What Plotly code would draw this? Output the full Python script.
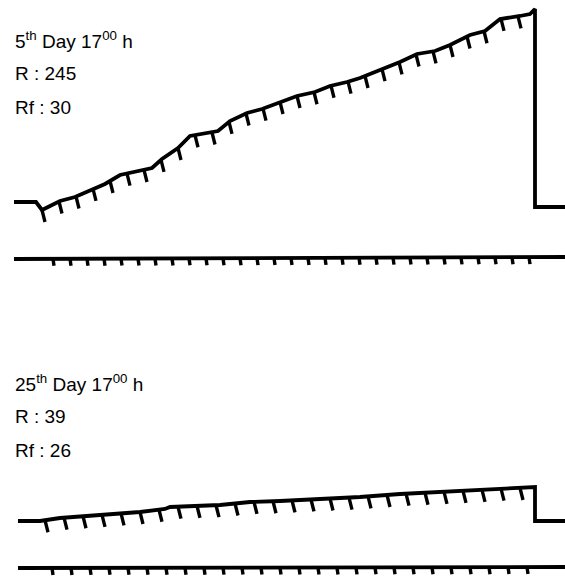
import numpy as np
import plotly.graph_objects as go

# ---- Day 5 record (time in chart units, pen position in chart units; y grows downward) ----
day5_time = [14, 36, 42, 50, 60, 75, 90, 105, 120, 140, 152, 162, 178, 190, 210, 218, 230, 247,
             262, 280, 297, 315, 330, 347, 360, 380, 400, 417, 435, 450, 470, 485, 500, 520, 530, 535, 535, 565]
day5_pen = [202, 202, 210, 206, 201, 197, 190, 184, 175, 171, 168, 159, 148, 136, 133, 131, 121, 113,
            109, 102, 96, 92, 86, 82, 78, 70, 62, 54, 51, 45, 35, 31, 19, 16, 14, 9, 207, 207]
day5_reinf = [42, 59, 76, 93, 110, 127, 144, 161, 178, 195, 212, 229, 246, 263, 280, 297, 314,
              331, 348, 365, 382, 399, 416, 433, 450, 467, 484, 501, 518]
day5_event_time = [14, 565]
day5_event_pen = [259, 257]
day5_events = [53, 70, 87, 104, 121, 138, 155, 172, 189, 206, 223, 240, 257, 274, 291, 308, 325,
               342, 359, 376, 393, 410, 427, 444, 461, 478, 495, 512, 529]

# ---- Day 25 record ----
day25_time = [18, 40, 60, 100, 140, 165, 170, 220, 250, 280, 320, 360, 400, 440, 480, 510, 535, 535, 565]
day25_pen = [521, 521, 518, 515, 512, 509, 507, 505, 502, 501, 499, 497, 494, 492, 490, 488, 487, 521, 521]
day25_reinf = [45, 64, 83, 102, 121, 140, 159, 178, 197, 216, 235, 254, 273, 292, 311, 330, 349,
               368, 387, 406, 425, 444, 463, 482, 501, 520]
day25_event_time = [18, 565]
day25_event_pen = [568, 567]
day25_events = [52, 71, 90, 109, 128, 147, 166, 185, 204, 223, 242, 261, 280, 299, 318, 337, 356,
                375, 394, 413, 432, 451, 470, 489, 508, 527]

labels = [
    (13, 40, "5<sup>th</sup> Day 17<sup>00</sup> h"),
    (13, 73, "R : 245"),
    (13, 107, "Rf : 30"),
    (13, 383, "25<sup>th</sup> Day 17<sup>00</sup> h"),
    (13, 416, "R : 39"),
    (13, 450, "Rf : 26"),
]

INK = "#000000"
W = 3.8


def tick_segments(tpos, base_t, base_p, length, slant):
    xs, ys = [], []
    for t in tpos:
        p = float(np.interp(t, base_t, base_p))
        xs += [t, t + slant, None]
        ys += [p, p + length, None]
    return xs, ys


fig = go.Figure()


def add_line(x, y, width=W):
    fig.add_trace(go.Scatter(x=x, y=y, mode="lines", line=dict(color=INK, width=width),
                             hoverinfo="skip", showlegend=False))


add_line(day5_time, day5_pen)
tx, ty = tick_segments(day5_reinf, day5_time[:-3], day5_pen[:-3], 12, 3)
add_line(tx, ty, 3.4)
add_line(day5_event_time, day5_event_pen)
tx, ty = tick_segments(day5_events, day5_event_time, day5_event_pen, 7, 1)
add_line(tx, ty, 3.4)

add_line(day25_time, day25_pen)
tx, ty = tick_segments(day25_reinf, day25_time[:-3], day25_pen[:-3], 12, 3)
add_line(tx, ty, 3.4)
add_line(day25_event_time, day25_event_pen)
tx, ty = tick_segments(day25_events, day25_event_time, day25_event_pen, 7, 1)
add_line(tx, ty, 3.4)

for x, y, s in labels:
    fig.add_annotation(x=x, y=y, text=s, showarrow=False, xanchor="left", yanchor="middle",
                       font=dict(family="Liberation Sans, Arial, sans-serif", size=19, color=INK))

fig.update_layout(
    width=565, height=577,
    margin=dict(l=0, r=0, t=0, b=0),
    paper_bgcolor="white", plot_bgcolor="white",
    xaxis=dict(range=[0, 565], visible=False, fixedrange=True),
    yaxis=dict(range=[577, 0], visible=False, fixedrange=True),
)

fig.write_html("out.html")
